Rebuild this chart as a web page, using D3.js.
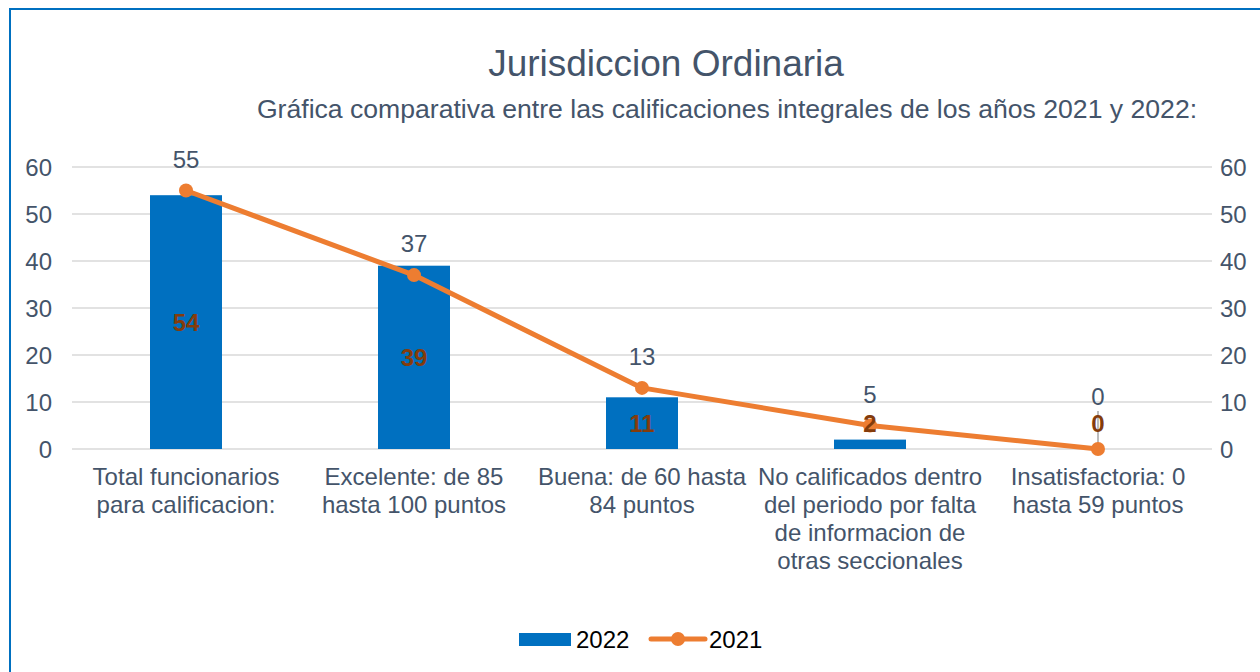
<!DOCTYPE html>
<html>
<head>
<meta charset="utf-8">
<script src="https://cdn.jsdelivr.net/npm/d3@7"></script>
<style>
  body { margin: 0; background: #fff; }
  svg { font-family: "Liberation Sans", Arial, sans-serif; display: block; }
</style>
</head>
<body>
<div id="main"></div>
<script>
var categories = [
    ["Total funcionarios", "para calificacion:"],
    ["Excelente: de 85", "hasta 100 puntos"],
    ["Buena: de 60 hasta", "84 puntos"],
    ["No calificados dentro", "del periodo por falta", "de informacion de", "otras seccionales"],
    ["Insatisfactoria: 0", "hasta 59 puntos"]
];
var values2022 = [54, 39, 11, 2, 0];
var values2021 = [55, 37, 13, 5, 0];
var yTicks = [0, 10, 20, 30, 40, 50, 60];

var ctx = { w: 1260, h: 672, left: 72, right: 1212, top: 167, bottom: 449 };

var svg = d3.select("#main").append("svg")
    .attr("width", ctx.w).attr("height", ctx.h);

// frame
svg.append("rect")
    .attr("x", 10).attr("y", 9).attr("width", 1300).attr("height", 700)
    .attr("fill", "none").attr("stroke", "#0070c0").attr("stroke-width", 2);

// titles
svg.append("text").attr("x", 666).attr("y", 76).attr("text-anchor", "middle")
    .attr("font-size", 37).attr("fill", "#44546a").text("Jurisdiccion Ordinaria");
svg.append("text").attr("x", 727).attr("y", 118).attr("text-anchor", "middle")
    .attr("font-size", 26.6).attr("fill", "#44546a")
    .text("Gráfica comparativa entre las calificaciones integrales de los años 2021 y 2022:");

var x = d3.scaleBand().domain(d3.range(categories.length))
    .range([ctx.left, ctx.right]).paddingInner(0).paddingOuter(0);
var y = d3.scaleLinear().domain([0, 60]).range([ctx.bottom, ctx.top]);

// gridlines
svg.append("g").selectAll("line").data(yTicks).join("line")
    .attr("x1", ctx.left).attr("x2", ctx.right)
    .attr("y1", d => y(d)).attr("y2", d => y(d))
    .attr("stroke", "#d9d9d9").attr("stroke-width", 1.5);

// left and right axes
var leftAxis = svg.append("g").attr("transform", `translate(${ctx.left - 20},0)`)
    .call(d3.axisLeft(y).tickValues(yTicks).tickSize(0).tickPadding(0));
var rightAxis = svg.append("g").attr("transform", `translate(${ctx.right + 8},0)`)
    .call(d3.axisRight(y).tickValues(yTicks).tickSize(0).tickPadding(0));
[leftAxis, rightAxis].forEach(g => {
    g.select(".domain").remove();
    g.selectAll("text").attr("font-size", 24).attr("fill", "#44546a")
        .attr("dy", "0.36em")
        .attr("font-family", "Liberation Sans, Arial, sans-serif");
});

// bars 2022
var barW = 72;
svg.append("g").selectAll("rect").data(values2022).join("rect")
    .attr("x", (d, i) => x(i) + x.bandwidth() / 2 - barW / 2)
    .attr("width", barW)
    .attr("y", d => y(d))
    .attr("height", d => y(0) - y(d))
    .attr("fill", "#0070c0");

// line 2021
var cx = i => x(i) + x.bandwidth() / 2;
var line = d3.line().x((d, i) => cx(i)).y(d => y(d));
svg.append("path").datum(values2021)
    .attr("d", line).attr("fill", "none")
    .attr("stroke", "#ed7d31").attr("stroke-width", 5).attr("stroke-linejoin", "round");

// leader line for label of zero point
svg.append("line")
    .attr("x1", cx(4)).attr("x2", cx(4))
    .attr("y1", y(0) - 38).attr("y2", y(0))
    .attr("stroke", "#a6a6a6").attr("stroke-width", 1.5);

svg.append("g").selectAll("circle").data(values2021).join("circle")
    .attr("cx", (d, i) => cx(i)).attr("cy", d => y(d)).attr("r", 7)
    .attr("fill", "#ed7d31");

// bar labels (bold, brown)
svg.append("g").selectAll("text").data(values2022).join("text")
    .attr("x", (d, i) => cx(i))
    .attr("y", d => y(Math.max(d / 2, 5.5)) + 9)
    .attr("text-anchor", "middle").attr("font-size", 24).attr("font-weight", "bold")
    .attr("fill", "#843c0c").text(d => d);

// line labels
svg.append("g").selectAll("text").data(values2021).join("text")
    .attr("x", (d, i) => cx(i))
    .attr("y", (d, i) => y(d) - (i === 4 ? 44 : 23))
    .attr("text-anchor", "middle").attr("font-size", 24)
    .attr("fill", "#44546a").text(d => d);

// category labels
var catG = svg.append("g").selectAll("text").data(categories).join("text")
    .attr("x", (d, i) => cx(i)).attr("y", 485)
    .attr("text-anchor", "middle").attr("font-size", 24).attr("fill", "#44546a");
catG.selectAll("tspan").data(d => d).join("tspan")
    .attr("x", function() { return d3.select(this.parentNode).attr("x"); })
    .attr("dy", (d, j) => j === 0 ? 0 : 28)
    .text(d => d);

// legend
var lg = svg.append("g");
lg.append("rect").attr("x", 519).attr("y", 633).attr("width", 52).attr("height", 13).attr("fill", "#0070c0");
lg.append("text").attr("x", 576).attr("y", 648).attr("font-size", 24).attr("fill", "#000").text("2022");
lg.append("line").attr("x1", 651).attr("x2", 705).attr("y1", 639).attr("y2", 639)
    .attr("stroke", "#ed7d31").attr("stroke-width", 5).attr("stroke-linecap", "round");
lg.append("circle").attr("cx", 678).attr("cy", 639).attr("r", 7).attr("fill", "#ed7d31");
lg.append("text").attr("x", 709).attr("y", 648).attr("font-size", 24).attr("fill", "#000").text("2021");
</script>
</body>
</html>
